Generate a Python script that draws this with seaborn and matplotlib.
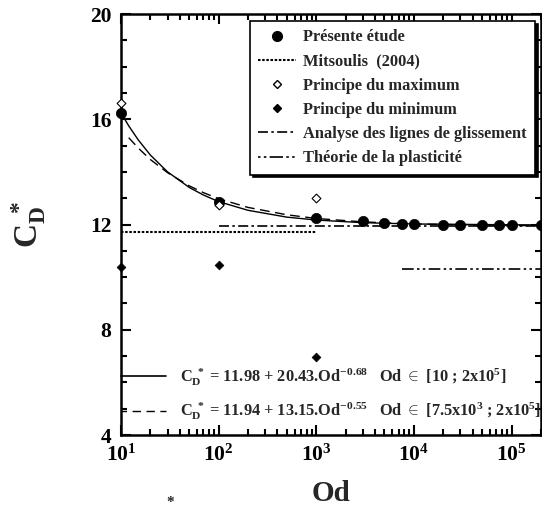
import matplotlib
matplotlib.use("Agg")
import matplotlib.pyplot as plt
from matplotlib.lines import Line2D
from matplotlib.ticker import LogLocator, FuncFormatter, MultipleLocator, NullFormatter
import numpy as np
import pandas as pd
import seaborn as sns

# values
od_present = [10, 100, 1000, 3000, 5000, 7500, 1e4, 2e4, 3e4, 5e4, 7.5e4, 1e5, 2e5]
cd_present = [16.25, 12.85, 12.25, 12.12, 12.06, 12.03, 12.02, 12.0, 12.0, 11.99, 11.99, 11.98, 11.98]

od_bounds = [10, 100, 1000]
cd_max = [16.6, 12.75, 13.0]
cd_min = [10.4, 10.48, 6.97]

od_mitsoulis = [10, 1000]
cd_mitsoulis = [11.73, 11.73]
od_glissement = [100, 2e5]
cd_glissement = [11.95, 11.95]
od_plasticite = [7500, 2e5]
cd_plasticite = [10.32, 10.32]

# correlation curves, points
od_fit1 = [10, 12, 15, 20, 30, 50, 70, 100, 200, 500, 1000, 3000, 1e4, 1e5, 2e5]
cd_fit1 = [16.25, 15.75, 15.22, 14.64, 14.0, 13.41, 13.12, 12.87, 12.54, 12.28, 12.17, 12.07, 12.02, 11.99, 11.985]
od_fit2 = [12, 15, 20, 30, 50, 70, 100, 200, 500, 1000, 3000, 1e4, 1e5, 2e5]
cd_fit2 = [15.3, 14.91, 14.47, 13.97, 13.47, 13.21, 12.98, 12.65, 12.37, 12.23, 12.1, 12.02, 11.96, 11.96]

labels = ["Présente étude", "Mitsoulis  (2004)", "Principe du maximum",
          "Principe du minimum", "Analyse des lignes de glissement",
          "Théorie de la plasticité"]
fit_labels = [r"$C_D^{\ *}$ = 11.98 + 20.43.Od$^{-0.68}$   Od $\in$ [10 ; 2x10$^5$]",
              r"$C_D^{\ *}$ = 11.94 + 13.15.Od$^{-0.55}$   Od $\in$ [7.5x10$^3$ ; 2x10$^5$]"]

sns.set_theme(style="ticks")
serif = ["Liberation Serif", "DejaVu Serif"]
plt.rcParams["font.family"] = serif
plt.rcParams["font.weight"] = "bold"
plt.rcParams["mathtext.fontset"] = "custom"
plt.rcParams["mathtext.rm"] = "Liberation Serif:bold"
plt.rcParams["mathtext.it"] = "Liberation Serif:bold"
plt.rcParams["mathtext.bf"] = "Liberation Serif:bold"
plt.rcParams["mathtext.default"] = "rm"

fig = plt.figure(figsize=(5.42, 5.08), dpi=100)
ax = fig.add_axes([0.2232, 0.1437, 0.7748, 0.8287])

lw = 1.2
sns.lineplot(x=od_fit1, y=cd_fit1, ax=ax, color="black", lw=1.0, sort=False, estimator=None)
sns.lineplot(x=od_fit2, y=cd_fit2, ax=ax, color="black", lw=1.0, sort=False, estimator=None,
             linestyle=(0, (7, 4)))
sns.lineplot(x=od_mitsoulis, y=cd_mitsoulis, ax=ax, color="black", lw=1.5,
             linestyle=(0, (1.2, 0.8)), estimator=None)
sns.lineplot(x=od_glissement, y=cd_glissement, ax=ax, color="black", lw=lw,
             linestyle=(0, (6, 2, 1.5, 2)), estimator=None)
sns.lineplot(x=od_plasticite, y=cd_plasticite, ax=ax, color="black", lw=lw,
             linestyle=(0, (7, 2, 1.5, 2, 1.5, 2)), estimator=None)

sns.scatterplot(x=od_present, y=cd_present, ax=ax, color="black", marker="o", s=55,
                edgecolor="black", linewidth=0.5, clip_on=False, zorder=5)
sns.scatterplot(x=od_bounds, y=cd_max, ax=ax, facecolor="white", marker="D", s=20,
                edgecolor="black", linewidth=0.8, clip_on=False, zorder=5)
sns.scatterplot(x=od_bounds, y=cd_min, ax=ax, color="black", marker="D", s=20,
                edgecolor="black", linewidth=0.5, clip_on=False, zorder=5)

ax.set_xscale("log")
ax.set_xlim(10, 2e5)
ax.set_ylim(4, 20)
ax.xaxis.set_major_locator(LogLocator(base=10, numticks=10))
ax.xaxis.set_minor_locator(LogLocator(base=10, subs=np.arange(2, 10), numticks=20))
ax.xaxis.set_major_formatter(FuncFormatter(lambda v, p: r"$10^{%d}$" % round(np.log10(v))))
ax.xaxis.set_minor_formatter(NullFormatter())
ax.yaxis.set_major_locator(MultipleLocator(4))
ax.yaxis.set_minor_locator(MultipleLocator(1))

for s in ax.spines.values():
    s.set_linewidth(1.8)
    s.set_color("black")
ax.tick_params(which="both", direction="in", top=True, right=True, colors="black", width=1.5)
ax.tick_params(which="major", length=7, labelsize=15.5, pad=7)
ax.tick_params(which="minor", length=4)
for t in ax.get_yticklabels() + ax.get_xticklabels():
    t.set_fontweight("bold")

ax.set_xlabel("Od", fontsize=21, fontweight="bold")
ax.set_ylabel(r"$C_D^{\ *}$", fontsize=24)
ax.xaxis.set_label_coords(0.5, -0.108)
ax.yaxis.set_label_coords(-0.173, 0.5)

handles = [
    Line2D([], [], marker="o", color="black", ls="none", markersize=7),
    Line2D([], [], color="black", lw=1.5, ls=(0, (1.2, 0.8))),
    Line2D([], [], marker="D", markerfacecolor="white", markeredgecolor="black", ls="none", markersize=4.5),
    Line2D([], [], marker="D", color="black", ls="none", markersize=4.5),
    Line2D([], [], color="black", lw=lw, ls=(0, (6, 2, 1.5, 2))),
    Line2D([], [], color="black", lw=lw, ls=(0, (1.5, 2, 1.5, 2, 8, 2))),
]
leg = ax.legend(handles, labels, loc="upper right", bbox_to_anchor=(0.986, 0.983),
                borderaxespad=0, fancybox=False, shadow={"color": "black", "alpha": 1},
                framealpha=1, edgecolor="black", handlelength=2.3, handletextpad=0.45,
                labelspacing=0.5, borderpad=0.5,
                prop={"family": serif, "weight": "bold", "size": 11.8})
leg.get_frame().set_linewidth(1.2)
ax.add_artist(leg)

fit_handles = [Line2D([], [], color="black", lw=1.2),
               Line2D([], [], color="black", lw=1.0, ls=(2, (6, 4)))]
ax.legend(fit_handles, fit_labels, loc="lower left", bbox_to_anchor=(0.0, 0.03),
          borderaxespad=0, borderpad=0, frameon=False, handlelength=2.75,
          handletextpad=0.85, labelspacing=0.8,
          prop={"family": serif, "weight": "bold", "size": 11.8})

fig.text(170 / 542, 5 / 508, "*", fontsize=11, ha="center", va="center")

fig.savefig("out.png", dpi=100)
